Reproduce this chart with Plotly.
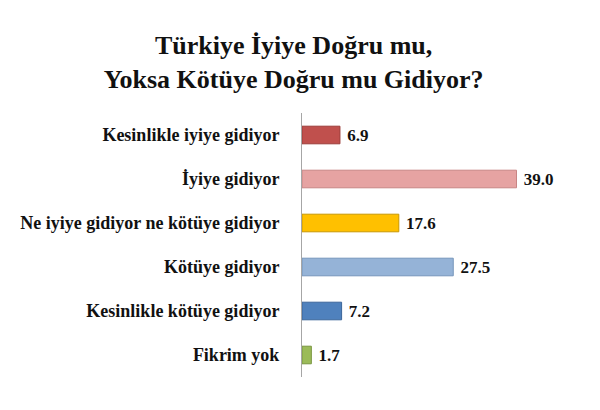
import plotly.graph_objects as go

# survey answers and shares (%)
categories = [
    "Kesinlikle iyiye gidiyor",
    "İyiye gidiyor",
    "Ne iyiye gidiyor ne kötüye gidiyor",
    "Kötüye gidiyor",
    "Kesinlikle kötüye gidiyor",
    "Fikrim yok",
]
values = [6.9, 39.0, 17.6, 27.5, 7.2, 1.7]
bar_colors = ["#C0504D", "#E6A3A2", "#FFC000", "#95B3D7", "#4F81BD", "#9BBB59"]
edge_colors = ["#9C3B38", "#C88584", "#C99700", "#7595BB", "#3B659A", "#7A9640"]

serif = "Palatino Linotype, Book Antiqua, Liberation Serif, DejaVu Serif, serif"

fig = go.Figure()

fig.add_trace(
    go.Bar(
        x=values,
        y=categories,
        orientation="h",
        marker=dict(color=bar_colors, line=dict(color=edge_colors, width=1)),
        text=[f"{v:.1f}" for v in values],
        texttemplate="\u00a0<b>%{text}</b>",
        textposition="outside",
        constraintext="none",
        textfont=dict(family=serif, size=17, color="#111111"),
        cliponaxis=False,
        hoverinfo="skip",
    )
)

# page body has an 8px default margin, so the figure is shifted by that much
fig.update_layout(
    width=600,
    height=410,
    paper_bgcolor="white",
    plot_bgcolor="white",
    showlegend=False,
    bargap=0.6,
    margin=dict(l=288, r=53, t=105, b=41, pad=0),
    title=dict(
        text="<b>Türkiye İyiye Doğru mu,<br>Yoksa Kötüye Doğru mu Gidiyor?</b>",
        x=0.476,
        xref="container",
        xanchor="center",
        y=0.888,
        yref="container",
        yanchor="middle",
        font=dict(family=serif, size=26, color="#111111"),
    ),
    xaxis=dict(
        range=[0, 46],
        visible=False,
        showgrid=False,
        zeroline=False,
    ),
    yaxis=dict(
        autorange="reversed",
        showline=True,
        linecolor="#A6A6A6",
        linewidth=1,
        showgrid=False,
        ticks="",
        ticklabelstandoff=18,
        tickfont=dict(family=serif, size=18, color="#111111"),
        tickvals=categories,
        ticktext=[f"<b>{c}</b>" for c in categories],
    ),
)

fig.write_html("out.html")
